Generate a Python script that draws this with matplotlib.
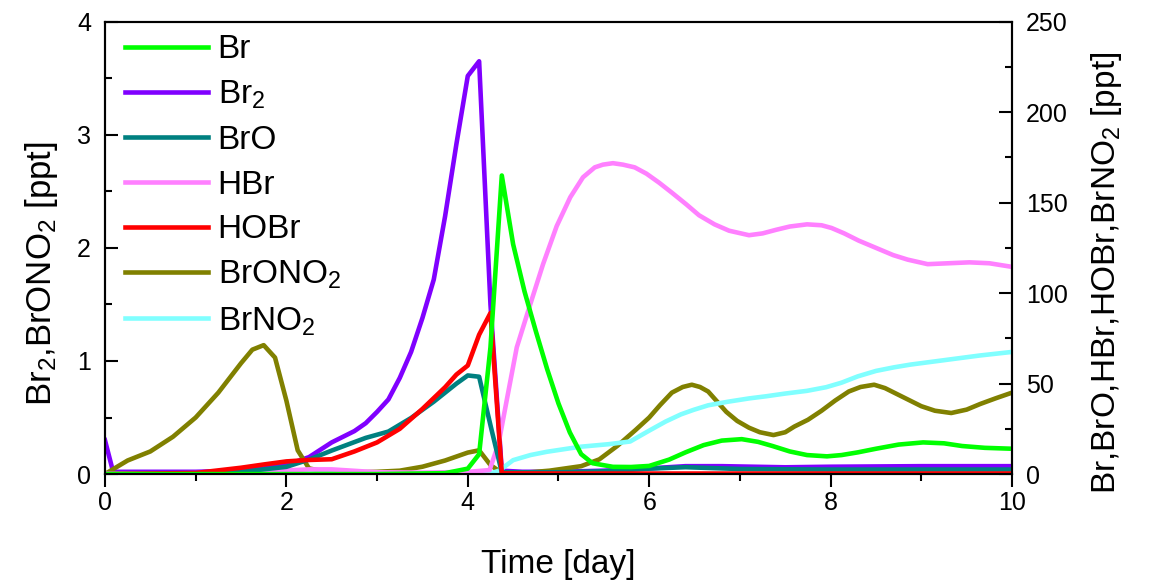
import matplotlib
matplotlib.use('Agg')
import matplotlib.pyplot as plt
from matplotlib.ticker import MultipleLocator

plt.rcParams['font.family'] = ['Liberation Sans', 'DejaVu Sans']
plt.rcParams['mathtext.fontset'] = 'custom'
plt.rcParams['mathtext.rm'] = 'Liberation Sans'
plt.rcParams['mathtext.it'] = 'Liberation Sans:italic'
plt.rcParams['mathtext.default'] = 'regular'

# left axis species [ppt]
t_br2 = [0, 0.09, 0.5, 1.0, 1.5, 1.75, 2.0, 2.25, 2.5, 2.75, 2.875, 3.0, 3.125, 3.25,
         3.375, 3.5, 3.625, 3.75, 3.875, 4.0, 4.125, 4.25, 4.375, 4.6, 5.0, 5.5,
         6.0, 6.4, 6.8, 7.5, 8.0, 9.0, 10.0]
br2 = [0.30, 0.02, 0.02, 0.02, 0.03, 0.05, 0.08, 0.15, 0.28, 0.38, 0.45, 0.55, 0.66, 0.85,
       1.08, 1.38, 1.72, 2.28, 2.92, 3.52, 3.65, 1.50, 0.03, 0.02, 0.02, 0.03,
       0.05, 0.07, 0.07, 0.06, 0.065, 0.07, 0.07]

t_brono2 = [0, 0.25, 0.5, 0.75, 1.0, 1.25, 1.5, 1.625, 1.75, 1.875, 2.0, 2.125, 2.25,
            2.5, 3.0, 3.25, 3.5, 3.75, 4.0, 4.125, 4.25, 4.375, 4.6, 4.9, 5.25, 5.45,
            5.65, 5.85, 6.0, 6.12, 6.25, 6.37, 6.47, 6.56, 6.65, 6.75, 6.85, 6.97,
            7.1, 7.22, 7.37, 7.5, 7.6, 7.75, 7.9, 8.05, 8.2, 8.33, 8.48, 8.6, 8.7,
            8.85, 9.0, 9.15, 9.33, 9.5, 9.65, 9.82, 10.0]
brono2 = [0.0, 0.12, 0.20, 0.33, 0.50, 0.72, 0.98, 1.10, 1.14, 1.03, 0.65, 0.21, 0.05,
          0.01, 0.02, 0.03, 0.065, 0.12, 0.19, 0.21, 0.08, 0.01, 0.01, 0.03, 0.07, 0.13,
          0.25, 0.39, 0.50, 0.61, 0.72, 0.77, 0.79, 0.77, 0.73, 0.64, 0.55, 0.47,
          0.41, 0.37, 0.345, 0.37, 0.42, 0.48, 0.56, 0.65, 0.73, 0.77, 0.79, 0.76, 0.72,
          0.66, 0.60, 0.56, 0.54, 0.57, 0.62, 0.67, 0.72]

# right axis species [ppt]
t_br = [0, 3.0, 3.75, 4.0, 4.125, 4.25, 4.375, 4.5, 4.625, 4.75, 4.875, 5.0, 5.125,
        5.25, 5.375, 5.6, 5.8, 6.0, 6.22, 6.4, 6.6, 6.8, 7.02, 7.2, 7.36, 7.55, 7.74,
        7.96, 8.12, 8.3, 8.5, 8.75, 9.02, 9.25, 9.45, 9.7, 10.0]
br = [0, 0, 0.5, 3, 11, 70, 165, 127, 101, 79, 58, 39, 23,
      11, 6, 4, 3.9, 4.5, 8, 12, 16, 18.5, 19.3, 17.8, 15.5, 12.5, 10.5,
      9.8, 10.5, 12, 14, 16.3, 17.5, 17, 15.5, 14.5, 14]

t_bro = [0, 1.0, 1.5, 2.0, 2.25, 2.5, 2.875, 3.125, 3.375, 3.625, 3.875, 4.0, 4.125,
         4.25, 4.375, 4.6, 5.0, 5.5, 6.0, 6.4, 7.0, 8.0, 9.0, 10.0]
bro = [0, 0.3, 1.2, 4, 8, 13, 20, 23.5, 31, 40, 50, 54.5, 53.8,
       27, 1, 1, 1, 1.5, 3, 3.8, 2.8, 2.5, 2.5, 2.5]

t_hbr = [0, 0.5, 1.0, 1.5, 2.0, 2.25, 2.5, 3.0, 3.5, 4.0, 4.24, 4.34, 4.43, 4.54,
         4.69, 4.83, 4.98, 5.13, 5.27, 5.4, 5.49, 5.6, 5.71, 5.84, 5.97, 6.11, 6.25,
         6.41, 6.55, 6.72, 6.88, 7.1, 7.25, 7.4, 7.55, 7.74, 7.9, 8.01, 8.15, 8.31,
         8.5, 8.69, 8.85, 9.07, 9.3, 9.53, 9.75, 10.0]
hbr = [0.3, 0.3, 0.5, 1.0, 2.0, 2.6, 2.6, 1.0, 0.8, 1.2, 2.2, 17, 41, 70,
       94, 116, 137, 153, 164, 169.5, 171, 171.8, 171, 169.5, 166, 161, 155.5,
       149, 143, 138, 134.5, 132, 133, 135, 136.8, 138, 137.5, 136, 133, 129,
       125, 121, 118.5, 116, 116.5, 117, 116.5, 114.5]

t_hobr = [0, 1.0, 1.5, 1.75, 2.0, 2.25, 2.5, 2.75, 3.0, 3.25, 3.5, 3.625, 3.75, 3.875,
          4.0, 4.125, 4.25, 4.375, 5.0, 10.0]
hobr = [0, 0.6, 3.5, 5.3, 7, 7.8, 8.2, 12.5, 17.5, 25, 36, 42, 48, 55,
        60, 77, 89, 0.4, 0.3, 0.3]

t_brno2 = [0, 4.25, 4.35, 4.5, 4.69, 4.87, 5.24, 5.55, 5.79, 6.0, 6.18, 6.35, 6.49,
           6.65, 6.87, 7.1, 7.29, 7.5, 7.74, 7.95, 8.12, 8.3, 8.5, 8.7, 8.88, 9.26,
           9.64, 10.0]
brno2 = [0.3, 0.3, 2, 7.7, 10.5, 12.3, 15.1, 16.5, 18, 24, 29, 33, 35.5,
         38, 40, 41.8, 43, 44.5, 46, 48, 50.5, 54, 57, 59, 60.5, 63,
         65.5, 67.5]

fig = plt.figure(figsize=(11.52, 5.86), dpi=100)
ax = fig.add_axes([0.0911, 0.191, 0.7874, 0.772])
ax2 = ax.twinx()

lw = 3.3
l_br2, = ax.plot(t_br2, br2, color='#8000FF', lw=lw, label='Br$_2$')
l_brono2, = ax.plot(t_brono2, brono2, color='#808000', lw=lw, label='BrONO$_2$')
l_brno2, = ax2.plot(t_brno2, brno2, color='#80FFFF', lw=lw, label='BrNO$_2$')
l_hbr, = ax2.plot(t_hbr, hbr, color='#FF80FF', lw=lw, label='HBr')
l_bro, = ax2.plot(t_bro, bro, color='#008080', lw=lw, label='BrO')
l_hobr, = ax2.plot(t_hobr, hobr, color='#FF0000', lw=lw, label='HOBr')
l_br, = ax2.plot(t_br, br, color='#00FF00', lw=lw, label='Br')

ax.set_xlim(0, 10)
ax.set_ylim(0, 4)
ax2.set_ylim(0, 250)

ax.xaxis.set_major_locator(MultipleLocator(2))
ax.xaxis.set_minor_locator(MultipleLocator(1))
ax.yaxis.set_major_locator(MultipleLocator(1))
ax.yaxis.set_minor_locator(MultipleLocator(0.5))
ax2.yaxis.set_major_locator(MultipleLocator(50))
ax2.yaxis.set_minor_locator(MultipleLocator(25))

ax.tick_params(axis='x', which='both', direction='out', top=False, labelsize=18, pad=3)
ax.tick_params(axis='y', which='both', direction='in', right=False, labelsize=18, pad=10)
ax2.tick_params(axis='y', which='both', direction='in', labelsize=18, pad=10)
for a in (ax, ax2):
    a.tick_params(which='major', length=9.5, width=1.5)
    a.tick_params(which='minor', length=5, width=1.5)
    for s in a.spines.values():
        s.set_linewidth(1.5)

ax.set_xlabel('Time [day]', fontsize=24)
ax.set_ylabel('Br$_2$,BrONO$_2$ [ppt]', fontsize=25)
ax2.set_ylabel('Br,BrO,HBr,HOBr,BrNO$_2$ [ppt]', fontsize=24)
ax.xaxis.set_label_coords(0.5, -0.165)
ax.yaxis.set_label_coords(-0.05, 0.444)
ax2.yaxis.set_label_coords(1.085, 0.444)

handles = [l_br, l_br2, l_bro, l_hbr, l_hobr, l_brono2, l_brno2]
ax2.legend(handles=handles, loc='upper left', bbox_to_anchor=(0.022, 0.972),
           frameon=False, fontsize=24, handlelength=2.48, handletextpad=0.3,
           labelspacing=0.41, borderpad=0, borderaxespad=0)

fig.savefig('out.png', dpi=100)
